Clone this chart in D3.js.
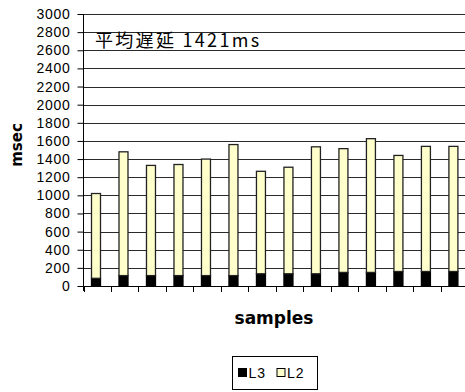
<!DOCTYPE html>
<html>
<head>
<meta charset="utf-8">
<script src="https://cdn.jsdelivr.net/npm/d3@7"></script>
<style>
  html, body { margin: 0; padding: 0; background: #fff; }
  svg { display: block; }
</style>
</head>
<body>
<script>
// Stacked latency per sample: L3 (bottom) + L2 (top), in msec
const samples = ["1","2","3","4","5","6","7","8","9","10","11","12","13","14"];
const l3Values = [85, 115, 115, 115, 115, 115, 135, 135, 135, 150, 150, 160, 160, 160];
const l2Values = [935, 1365, 1215, 1225, 1285, 1445, 1130, 1175, 1400, 1365, 1475, 1280, 1380, 1380];
const yTicks = d3.range(0, 3001, 200);
const seriesNames = ["L3", "L2"];
const seriesColors = ["#000000", "#FFFFCC"];

const W = 465, H = 392;
const plot = { left: 83.5, right: 468.4, top: 14, bottom: 286 };

const svg = d3.select("body").append("svg")
  .attr("width", W).attr("height", H)
  .style("font-family", "'Liberation Sans', Arial, sans-serif");

const rows = samples.map((s, i) => ({ sample: s, L3: l3Values[i], L2: l2Values[i] }));
const stacked = d3.stack().keys(seriesNames)(rows);

const x = d3.scaleBand().domain(samples).range([plot.left, plot.right]).padding(0);
const y = d3.scaleLinear().domain([0, 3000]).range([plot.bottom, plot.top]);

// horizontal gridlines
svg.append("g").selectAll("line").data(yTicks.slice(1)).join("line")
  .attr("x1", plot.left).attr("x2", W)
  .attr("y1", d => Math.round(y(d)) + 0.5).attr("y2", d => Math.round(y(d)) + 0.5)
  .attr("stroke", "#2a2a2a").attr("stroke-width", 1);

// y axis
const yAxis = svg.append("g")
  .attr("transform", `translate(${plot.left},0)`)
  .call(d3.axisLeft(y).tickValues(yTicks).tickSize(6).tickPadding(7).tickFormat(d3.format("d")));
yAxis.select(".domain").attr("stroke", "#000").attr("d", `M0,${plot.top}V${plot.bottom + 5}`);
yAxis.selectAll(".tick line").attr("stroke", "#000");
yAxis.selectAll(".tick text")
  .style("font-size", "14px").style("letter-spacing", "0.7px").attr("fill", "#000");

// bars
const barW = 9, barOffset = 8;
svg.append("g").selectAll("g").data(stacked).join("g")
  .attr("fill", (d, i) => seriesColors[i])
  .attr("stroke", (d, i) => i === 0 ? "#000" : "#222")
  .attr("stroke-width", 1.3)
  .selectAll("rect").data(d => d).join("rect")
    .attr("x", d => x(d.data.sample) + barOffset)
    .attr("width", barW)
    .attr("y", d => y(d[1]))
    .attr("height", d => y(d[0]) - y(d[1]));

// x axis with ticks between categories
const xAxisG = svg.append("g");
xAxisG.append("line")
  .attr("x1", plot.left).attr("x2", W)
  .attr("y1", plot.bottom + 0.5).attr("y2", plot.bottom + 0.5)
  .attr("stroke", "#000");
const boundaries = samples.map(s => x(s)).concat([plot.right]);
xAxisG.selectAll(".xt").data(boundaries).join("line")
  .attr("class", "xt")
  .attr("x1", d => Math.round(d) + 0.5).attr("x2", d => Math.round(d) + 0.5)
  .attr("y1", plot.bottom).attr("y2", plot.bottom + 6)
  .attr("stroke", "#000");

// average label inside the plot
const totals = rows.map(r => r.L3 + r.L2);
const avg = Math.round(d3.mean(totals));
svg.append("text")
  .attr("x", 95).attr("y", 47)
  .style("font-family", "'Noto Sans CJK JP', sans-serif")
  .style("font-size", "18px")
  .style("letter-spacing", "2.3px")
  .attr("fill", "#000")
  .text(`平均遅延 ${avg}ms`);

// axis titles
svg.append("text")
  .attr("transform", "translate(22,145) rotate(-90)")
  .attr("text-anchor", "middle")
  .style("font-family", "'DejaVu Sans', sans-serif")
  .style("font-weight", "bold").style("font-size", "15px")
  .text("msec");

svg.append("text")
  .attr("x", 274).attr("y", 324)
  .attr("text-anchor", "middle")
  .style("font-family", "'DejaVu Sans', sans-serif")
  .style("font-weight", "bold").style("font-size", "17px")
  .text("samples");

// legend
const lg = svg.append("g");
lg.append("rect").attr("x", 232.5).attr("y", 356.5).attr("width", 85).attr("height", 33)
  .attr("fill", "#fff").attr("stroke", "#000");
const items = lg.selectAll("g").data(seriesNames).join("g")
  .attr("transform", (d, i) => `translate(${238.5 + i * 38.5},368.5)`);
items.append("rect").attr("width", 8).attr("height", 8)
  .attr("fill", (d, i) => seriesColors[i]).attr("stroke", "#000");
items.append("text").attr("x", 10).attr("y", 9)
  .style("font-size", "14px").style("letter-spacing", "1px")
  .text(d => d);
</script>
</body>
</html>
